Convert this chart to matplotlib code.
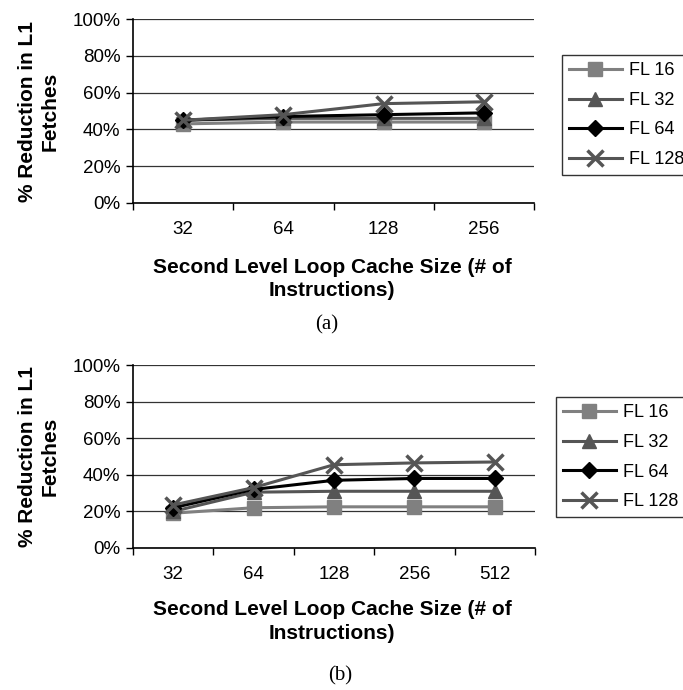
import matplotlib
matplotlib.use('Agg')
import matplotlib.pyplot as plt
from matplotlib.ticker import FixedLocator, PercentFormatter

plt.rcParams['font.family'] = ['Liberation Sans', 'DejaVu Sans']

# data (% reduction in L1 fetches)
sizes_a = ['32', '64', '128', '256']
fl16_a = [43, 44, 44, 44]
fl32_a = [45, 46, 46, 46]
fl64_a = [45, 47, 48, 49]
fl128_a = [45, 48, 54, 55]

sizes_b = ['32', '64', '128', '256', '512']
fl16_b = [19, 22, 22.5, 22.5, 22.5]
fl32_b = [20, 30.5, 31, 31, 31]
fl64_b = [22, 32, 37, 38, 38]
fl128_b = [23.5, 33, 45.5, 46.5, 47]

series_names = ['FL 16', 'FL 32', 'FL 64', 'FL 128']
colors = ['#808080', '#555555', '#000000', '#555555']
markers = ['s', '^', 'D', 'x']
msizes = [10, 10, 8, 11]

W, H = 683, 690


def draw_panel(ax, sizes, series, legend_xy, xlabel_y, panel_xy, panel_txt):
    xs = list(range(len(sizes)))
    for vals, name, c, m, ms in zip(series, series_names, colors, markers, msizes):
        ax.plot(xs, vals, color=c, marker=m, markersize=ms, lw=2.2,
                markeredgewidth=2.5 if m == 'x' else 1, label=name,
                markeredgecolor=c, clip_on=False)
    ax.set_ylim(0, 100)
    ax.set_xlim(-0.5, len(sizes) - 0.5)
    ax.yaxis.set_major_locator(FixedLocator(range(0, 101, 20)))
    ax.yaxis.set_major_formatter(PercentFormatter(decimals=0))
    ax.set_xticks(xs)
    ax.set_xticklabels(sizes)
    ax.xaxis.set_minor_locator(FixedLocator([i - 0.5 for i in range(len(sizes) + 1)]))
    ax.tick_params(axis='x', which='major', length=0, pad=13, labelsize=13.5)
    ax.tick_params(axis='x', which='minor', length=5, width=1, direction='out')
    ax.tick_params(axis='y', length=5, width=1, direction='out', labelsize=13.5, pad=4)
    ax.grid(axis='y', color='#333333', lw=0.9)
    ax.set_axisbelow(True)
    for s in ['top', 'right']:
        ax.spines[s].set_visible(False)
    ax.spines['left'].set_linewidth(1.2)
    ax.spines['bottom'].set_linewidth(1.2)

    fig = ax.figure
    pos = ax.get_position()
    yc = (pos.y0 + pos.y1) / 2
    fig.text(38.5 / W, yc, '% Reduction in L1\nFetches', rotation=90, ha='center',
             va='center', fontsize=15, fontweight='bold', linespacing=1.25)
    fig.text(332 / W, 1 - xlabel_y / H, 'Second Level Loop Cache Size (# of\nInstructions)',
             ha='center', va='center', fontsize=15, fontweight='bold', linespacing=1.3)
    fig.text(panel_xy[0] / W, 1 - panel_xy[1] / H, panel_txt, ha='center', va='center',
             fontsize=15, family=['Liberation Serif', 'DejaVu Serif'])

    leg = ax.legend(loc='upper left', bbox_to_anchor=legend_xy,
                    bbox_transform=fig.transFigure, numpoints=1,
                    handlelength=2.9, fontsize=13, frameon=True, fancybox=False,
                    edgecolor='black', borderpad=0.4, labelspacing=0.7,
                    handletextpad=0.4, borderaxespad=0)
    leg.get_frame().set_linewidth(1)


fig = plt.figure(figsize=(6.83, 6.90), dpi=100)

ax1 = fig.add_axes([133 / W, 1 - 203 / H, 401 / W, 184 / H])
draw_panel(ax1, sizes_a, [fl16_a, fl32_a, fl64_a, fl128_a], (562 / W, 1 - 55 / H),
           279, (327, 325), '(a)')

ax2 = fig.add_axes([133 / W, 1 - 548 / H, 402 / W, 183 / H])
draw_panel(ax2, sizes_b, [fl16_b, fl32_b, fl64_b, fl128_b], (556 / W, 1 - 397 / H),
           621.5, (340, 676), '(b)')

fig.savefig('out.png', dpi=100)
